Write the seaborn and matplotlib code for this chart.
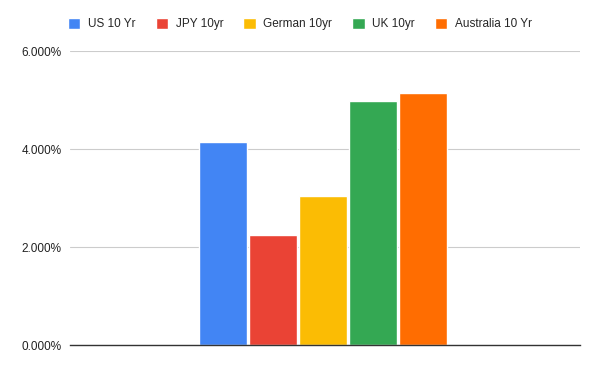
import matplotlib
matplotlib.use('Agg')
import matplotlib.pyplot as plt
import seaborn as sns
import pandas as pd
from matplotlib.ticker import FuncFormatter
from matplotlib.patches import Patch

series = ['US 10 Yr', 'JPY 10yr', 'German 10yr', 'UK 10yr', 'Australia 10 Yr']
yields = [4.14, 2.24, 3.04, 4.98, 5.14]
colors = ['#4285F4', '#EA4335', '#FBBC04', '#34A853', '#FF6D01']

df = pd.DataFrame({'group': [''] * len(series), 'series': series, 'value': yields})

sns.set_style('white')
plt.rcParams['font.family'] = ['Liberation Sans', 'DejaVu Sans']

fig = plt.figure(figsize=(6, 3.71), dpi=100)
ax = fig.add_axes([70 / 600, 1 - 345 / 371, 510 / 600, (345 - 51) / 371])

sns.barplot(data=df, x='group', y='value', hue='series', hue_order=series,
            palette=colors, width=0.49, gap=0.04, saturation=1,
            legend=False, ax=ax, errorbar=None)

ax.set_xlim(-0.496, 0.504)
ax.set_ylim(0, 6)
ax.set_yticks([0, 2, 4, 6])
ax.yaxis.set_major_formatter(FuncFormatter(lambda v, p: f'{v:.3f}%'))
ax.grid(axis='y', color='#cccccc', linewidth=0.8)
ax.set_axisbelow(True)
for s in ['top', 'right', 'left']:
    ax.spines[s].set_visible(False)
ax.spines['bottom'].set_color('#333333')
ax.spines['bottom'].set_linewidth(1)
ax.tick_params(axis='y', length=0, labelsize=8.5, labelcolor='#222222', pad=6)
ax.tick_params(axis='x', length=0, labelbottom=False)
ax.set_xlabel('')
ax.set_ylabel('')

handles = [Patch(facecolor=c, label=s) for c, s in zip(colors, series)]
fig.legend(handles=handles, loc='center', bbox_to_anchor=(0.5, 1 - 24 / 371),
           ncol=5, frameon=False, fontsize=8.5, handlelength=1.05, handleheight=1.05,
           handletextpad=0.65, columnspacing=1.7)

fig.savefig('out.png', dpi=100)
